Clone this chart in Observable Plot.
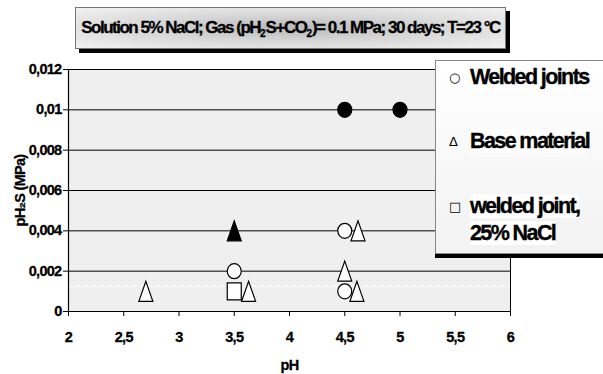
<!DOCTYPE html>
<html>
<head>
<meta charset="utf-8">
<script src="https://cdn.jsdelivr.net/npm/d3@7"></script>
<script src="https://cdn.jsdelivr.net/npm/@observablehq/plot@0.6"></script>
<style>
  html, body { margin: 0; padding: 0; background: #fff; }
  #wrap { position: relative; width: 603px; height: 374px; overflow: hidden; font-family: "Liberation Sans", Arial, sans-serif; }
  #title {
    position: absolute; left: 75px; top: 7px; width: 429px; height: 40px;
    border: 1px solid #777; box-shadow: 4px 4px 0 #000;
    background: radial-gradient(ellipse at center, #b8b8b8 0%, #d6d6d6 45%, #f2f2f2 100%);
    font-weight: bold; font-size: 17px; letter-spacing: -1.5px; line-height: 40px;
    text-align: center; white-space: nowrap; color: #000; -webkit-text-stroke: 0.3px #000;
  }
  #title sub { font-size: 10px; vertical-align: -4px; line-height: 0; letter-spacing: 0; }
  #legend {
    position: absolute; left: 435px; top: 60px; width: 180px; height: 192px;
    border: 1px solid #888; box-shadow: 0 4px 0 #000;
    background: linear-gradient(#ffffff, #f2f2f2);
    color: #000;
  }
  .item { position: absolute; left: 13px; white-space: nowrap; }
  .sym { font-size: 13px; font-weight: normal; display: inline-block; width: 21px; font-family: "DejaVu Sans", sans-serif; vertical-align: 2px; }
  .lab { font-weight: bold; font-size: 21.5px; letter-spacing: -1.6px; background: #fff; -webkit-text-stroke: 0.35px #000; }
  #chart svg text {
    font-size: 14.5px !important; font-weight: bold !important; letter-spacing: -0.7px;
    font-family: "Liberation Sans", Arial, sans-serif !important; fill: #000; stroke: #000; stroke-width: 0.3px;
  }
</style>
</head>
<body>
<div id="wrap">
  <div id="chart" style="position:absolute;left:0;top:0;"></div>
  <div id="title"></div>
  <div id="legend"></div>
</div>
<script>
// ---- data ----
const pHValues   = [4.5,   5.0,   3.5,   3.5,   4.5,   4.5,   2.7,   3.63,  4.62,  4.5,   4.61,  3.5];
const pH2SValues = [0.010, 0.010, 0.004, 0.002, 0.004, 0.001, 0.001, 0.001, 0.004, 0.002, 0.001, 0.001];
const shapes     = ["circle","circle","triangle","circle","circle","circle","triangle","triangle","triangle","triangle","triangle","square"];
const filledFlag = [true,  true,  true,  false, false, false, false, false, false, false, false, false];

const seriesNames  = ["Welded joints", "Base material", "welded joint,", "25% NaCl"];
const seriesSymbols = ["○", "Δ", "□"];
const xTicks       = [2, 2.5, 3, 3.5, 4, 4.5, 5, 5.5, 6];
const xTickLabels  = ["2", "2,5", "3", "3,5", "4", "4,5", "5", "5,5", "6"];
const yTicks       = [0, 0.002, 0.004, 0.006, 0.008, 0.01, 0.012];
const yTickLabels  = ["0", "0,002", "0,004", "0,006", "0,008", "0,01", "0,012"];
const gridValues   = [0.002, 0.004, 0.006, 0.008, 0.01, 0.012];
const scanStreak   = [0.00125];
const xLabel = "pH";
const yLabel = "pH₂S (MPa)";

// ---- table built from the arrays ----
const data = pHValues.map((x, i) => ({x, y: pH2SValues[i], shape: shapes[i], filled: filledFlag[i]}));

// custom marker shapes (slightly taller than wide, as in the scan)
const ellipse = {draw(ctx) {
  const rx = 7, ry = 7.5, k = 0.5523;
  ctx.moveTo(rx, 0);
  ctx.bezierCurveTo(rx, ry * k, rx * k, ry, 0, ry);
  ctx.bezierCurveTo(-rx * k, ry, -rx, ry * k, -rx, 0);
  ctx.bezierCurveTo(-rx, -ry * k, -rx * k, -ry, 0, -ry);
  ctx.bezierCurveTo(rx * k, -ry, rx, -ry * k, rx, 0);
  ctx.closePath();
}};
const tri = {draw(ctx) {
  ctx.moveTo(0, -10); ctx.lineTo(7, 10); ctx.lineTo(-7, 10); ctx.closePath();
}};
const sq = {draw(ctx) {
  ctx.moveTo(-7, -8.5); ctx.lineTo(7, -8.5); ctx.lineTo(7, 8.5); ctx.lineTo(-7, 8.5); ctx.closePath();
}};
const symFor = {circle: ellipse, triangle: tri, square: sq};

const dotMark = (shape) => Plot.dot(data.filter(d => d.shape === shape), {
  x: "x", y: "y", r: 7, symbol: symFor[shape],
  fill: d => d.filled ? "#000" : "#fff", stroke: "#000", strokeWidth: 1.2
});

const chart = Plot.plot({
  width: 603, height: 374,
  marginLeft: 68, marginRight: 93, marginTop: 69, marginBottom: 63,
  style: {fontFamily: "Liberation Sans, Arial, sans-serif", fontWeight: "bold", fontSize: "14px", background: "transparent", color: "#000"},
  x: {domain: [2, 6]},
  y: {domain: [0, 0.012]},
  color: {type: "identity"},
  marks: [
    Plot.frame({fill: "#efefef", stroke: null}),
    Plot.ruleY(scanStreak, {stroke: "#fff", strokeWidth: 1.5, strokeDasharray: "5,3", strokeOpacity: 0.9}),
    Plot.ruleY(gridValues, {stroke: "#000", strokeWidth: 1}),
    Plot.ruleY([0], {stroke: "#000", strokeWidth: 1.2}),
    Plot.ruleX([2], {stroke: "#000", strokeWidth: 1.2}),
    Plot.ruleX([6], {stroke: "#000", strokeWidth: 1}),
    Plot.axisX({ticks: xTicks, tickFormat: (d) => xTickLabels[xTicks.indexOf(d)], tickSize: 5, tickPadding: 15,
      label: xLabel, labelAnchor: "center", labelArrow: "none", labelOffset: 58}),
    Plot.axisY({ticks: yTicks, tickFormat: (d, i) => yTickLabels[i], tickSize: 5, tickPadding: 2,
      label: yLabel, labelAnchor: "center", labelArrow: "none", labelOffset: 54}),
    dotMark("triangle"),
    dotMark("circle"),
    dotMark("square")
  ]
});
document.getElementById("chart").appendChild(chart);

// ---- title ----
document.getElementById("title").innerHTML =
  "Solution 5% NaCl; Gas (pH<sub>2</sub>S+CO<sub>2</sub>)= 0.1 MPa; 30 days; T=23 °C";

// ---- legend ----
const legend = document.getElementById("legend");
const rows = [
  {sym: seriesSymbols[0], text: seriesNames[0], top: 4},
  {sym: seriesSymbols[1], text: seriesNames[1], top: 68},
  {sym: seriesSymbols[2], text: seriesNames[2], top: 133},
  {sym: "",               text: seriesNames[3], top: 160}
];
rows.forEach(r => {
  const div = document.createElement("div");
  div.className = "item";
  div.style.top = r.top + "px";
  const s = document.createElement("span"); s.className = "sym"; s.textContent = r.sym;
  const t = document.createElement("span"); t.className = "lab"; t.textContent = r.text;
  div.appendChild(s); div.appendChild(t);
  legend.appendChild(div);
});
</script>
</body>
</html>
